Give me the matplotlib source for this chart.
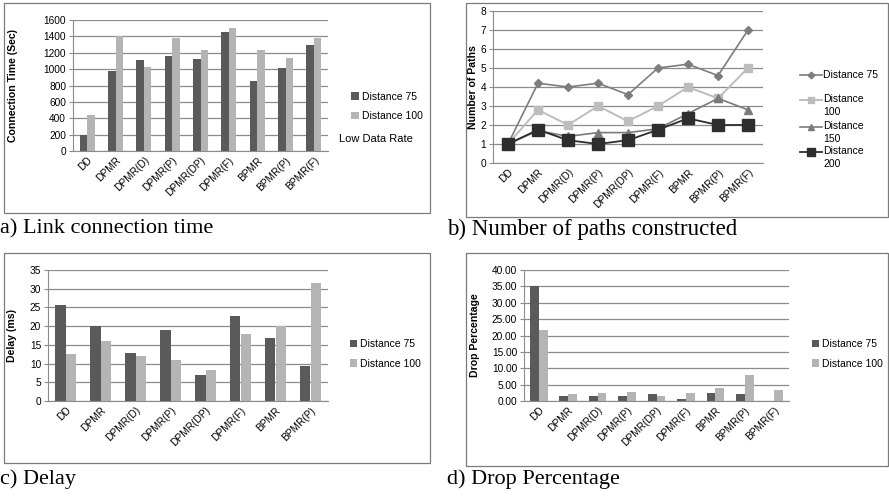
import matplotlib
matplotlib.use('Agg')
import matplotlib.pyplot as plt
from matplotlib.patches import Rectangle
from matplotlib.lines import Line2D
from matplotlib.ticker import FormatStrFormatter
import numpy as np

plt.rcParams['font.family'] = ['Liberation Sans', 'DejaVu Sans']

# Data
cats9 = ['DD', 'DPMR', 'DPMR(D)', 'DPMR(P)', 'DPMR(DP)', 'DPMR(F)', 'BPMR', 'BPMR(P)', 'BPMR(F)']
cats8 = cats9[:8]

conn_75 = [200, 975, 1110, 1160, 1120, 1450, 850, 1010, 1300]
conn_100 = [440, 1400, 1020, 1375, 1230, 1500, 1230, 1135, 1375]

paths_75 = [1, 4.2, 4.0, 4.2, 3.6, 5.0, 5.2, 4.6, 7.0]
paths_100 = [1, 2.8, 2.0, 3.0, 2.2, 3.0, 4.0, 3.4, 5.0]
paths_150 = [1, 1.7, 1.4, 1.6, 1.6, 1.8, 2.6, 3.4, 2.8]
paths_200 = [1, 1.75, 1.2, 1.0, 1.2, 1.75, 2.35, 2.0, 2.0]
path_labels = ['Distance 75', 'Distance\n100', 'Distance\n150', 'Distance\n200']

delay_75 = [25.7, 20.1, 12.7, 19.1, 6.9, 22.8, 16.7, 9.3]
delay_100 = [12.5, 15.9, 11.9, 10.9, 8.4, 18.0, 20.0, 31.6]

drop_75 = [35.0, 1.6, 1.6, 1.6, 2.0, 0.7, 2.3, 2.0, 0.0]
drop_100 = [21.8, 2.0, 2.3, 2.6, 1.6, 2.3, 3.9, 7.8, 3.5]

DARK = '#5a5a5a'
LIGHT = '#b4b4b4'
GRID = '#8c8c8c'
SERIF = 'Liberation Serif'

W, H = 889, 499
fig = plt.figure(figsize=(W / 100, H / 100), dpi=100)


def fx(x):
    return x / W


def fy(y):
    return 1 - y / H


def px_axes(x0, y0, x1, y1):
    # pixel box (top-left origin) -> figure axes
    return fig.add_axes([fx(x0), fy(y1), (x1 - x0) / W, (y1 - y0) / H])


def px_frame(x0, y0, x1, y1):
    fig.patches.append(Rectangle((fx(x0), fy(y1)), (x1 - x0) / W, (y1 - y0) / H,
                                 transform=fig.transFigure, fill=False,
                                 edgecolor='#7a7a7a', linewidth=0.9))


def style(ax, cats, ymax, ystep, ylabel, label_x):
    ax.set_xlim(-0.5, len(cats) - 0.5)
    ax.set_ylim(0, ymax)
    ax.set_yticks(np.arange(0, ymax + ystep / 2, ystep))
    ax.yaxis.grid(True, color=GRID, linewidth=0.9)
    ax.set_axisbelow(True)
    for s in ['top', 'right']:
        ax.spines[s].set_visible(False)
    ax.spines['left'].set_color(GRID)
    ax.spines['bottom'].set_color(GRID)
    ax.tick_params(axis='y', labelsize=7.3, length=3, color=GRID, pad=2)
    ax.tick_params(axis='x', labelsize=7.3, length=0, pad=3)
    ax.set_xticks(range(len(cats)))
    ax.set_xticklabels(cats, rotation=45, ha='right', rotation_mode='anchor')
    ax.set_ylabel(ylabel, fontsize=7.6, fontweight='bold')
    ax.yaxis.set_label_coords(label_x, 0.5)


def bars(ax, a, b, w):
    x = np.arange(len(a))
    ax.bar(x - w / 2, a, w, color=DARK, label='Distance 75')
    ax.bar(x + w / 2, b, w, color=LIGHT, label='Distance 100')


def bar_legend(ax, xa, ya):
    ax.legend(loc='center left', bbox_to_anchor=(xa, ya), frameon=False, fontsize=7.5,
              handlelength=0.7, handleheight=0.7, handletextpad=0.3, labelspacing=0.9)


# a) Link connection time
px_frame(4, 3, 430, 213)
ax1 = px_axes(73, 20, 328, 151)
bars(ax1, conn_75, conn_100, 0.26)
style(ax1, cats9, 1600, 200, 'Connection Time (Sec)', -0.216)
bar_legend(ax1, 1.055, 0.34)
fig.text(fx(339), fy(139), 'Low Data Rate', fontsize=8, va='center')
fig.text(0, fy(229), 'a) Link connection time', fontsize=16, family=SERIF, va='center')

# b) Number of paths constructed
px_frame(466, 3, 888, 217)
ax2 = px_axes(493, 11, 763, 163)
x9 = np.arange(9)
line_specs = [
    (paths_75, '#7d7d7d', 'D', 4.2, 1.2),
    (paths_100, '#bdbdbd', 's', 5.5, 1.4),
    (paths_150, '#7a7a7a', '^', 6, 1.2),
    (paths_200, '#2e2e2e', 's', 8, 1.3),
]
for vals, col, mk, ms, lw in line_specs:
    ax2.plot(x9, vals, color=col, marker=mk, markersize=ms, linewidth=lw)
style(ax2, cats9, 8, 1, 'Number of Paths', -0.056)

# legend drawn by hand so that the marker sits on the first text line
for (vals, col, mk, ms, lw), lab, ly in zip(line_specs, path_labels, [75, 100, 127, 152]):
    fig.add_artist(Line2D([fx(800), fx(822)], [fy(ly), fy(ly)], color=col, linewidth=lw,
                          transform=fig.transFigure))
    fig.add_artist(Line2D([fx(811)], [fy(ly)], color=col, marker=mk, markersize=ms * 0.8,
                          transform=fig.transFigure))
    if '\n' in lab:
        fig.text(fx(823), fy(ly - 6), lab, fontsize=7.5, va='top', linespacing=1.35)
    else:
        fig.text(fx(823), fy(ly), lab, fontsize=7.5, va='center')
fig.text(fx(447), fy(229), 'b) Number of paths constructed', fontsize=16.5, family=SERIF,
         va='center')

# c) Delay
px_frame(4, 253, 430, 463)
ax3 = px_axes(48, 270, 328, 401)
bars(ax3, delay_75, delay_100, 0.31)
style(ax3, cats8, 35, 5, 'Delay (ms)', -0.111)
bar_legend(ax3, 1.045, 0.36)
fig.text(0, fy(479), 'c) Delay', fontsize=16, family=SERIF, va='center')

# d) Drop Percentage
px_frame(466, 253, 888, 466)
ax4 = px_axes(524, 270, 789, 401)
bars(ax4, drop_75, drop_100, 0.3)
style(ax4, cats9, 40, 5, 'Drop Percentage', -0.166)
ax4.yaxis.set_major_formatter(FormatStrFormatter('%.2f'))
bar_legend(ax4, 1.05, 0.36)
fig.text(fx(447), fy(479), 'd) Drop Percentage', fontsize=16, family=SERIF, va='center')

plt.savefig('out.png', dpi=100)
plt.close()
